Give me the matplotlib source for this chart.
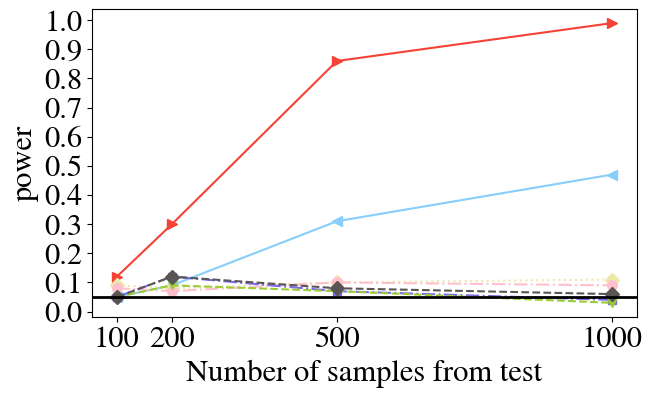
import numpy as np
import matplotlib
matplotlib.use('Agg')
import matplotlib.pyplot as plt

plt.rcParams['font.family'] = ['STIXGeneral', 'Liberation Serif', 'DejaVu Serif']
plt.rcParams['mathtext.fontset'] = 'stix'

n_samples = [100, 200, 500, 1000]

power_red = [0.12, 0.30, 0.86, 0.99]
power_skyblue = [0.05, 0.09, 0.31, 0.47]
power_khaki = [0.09, 0.08, 0.10, 0.11]
power_pink = [0.08, 0.07, 0.10, 0.09]
power_blue = [0.05, 0.12, 0.07, 0.04]
power_green = [0.05, 0.09, 0.07, 0.03]
power_gray = [0.05, 0.12, 0.08, 0.06]

alpha_level = 0.05

fig, ax = plt.subplots(figsize=(6.49, 3.97), dpi=100)

ax.plot(n_samples, power_red, '->', color='#f44336', ms=7)
ax.plot(n_samples, power_skyblue, '-<', color='lightskyblue', ms=7)
ax.plot(n_samples, power_khaki, ':D', color='palegoldenrod', ms=7)
ax.plot(n_samples, power_pink, '-.o', color='pink', ms=7)
ax.plot(n_samples, power_blue, '-.s', color='mediumslateblue', ms=6)
ax.plot(n_samples, power_green, '--v', color='yellowgreen', ms=6)
ax.plot(n_samples, power_gray, '--D', color='#5a5555', ms=7)

ax.axhline(alpha_level, color='black', lw=2)

ax.set_xticks(n_samples)
ax.set_yticks(np.arange(0, 1.01, 0.1))
ax.set_yticklabels(['%.1f' % v for v in np.arange(0, 1.01, 0.1)])
ax.tick_params(labelsize=22)
ax.set_xlabel('Number of samples from test', fontsize=22)
ax.set_ylabel('power', fontsize=22)

fig.subplots_adjust(left=0.142, right=0.981, top=0.977, bottom=0.202)
fig.savefig('out.png')
